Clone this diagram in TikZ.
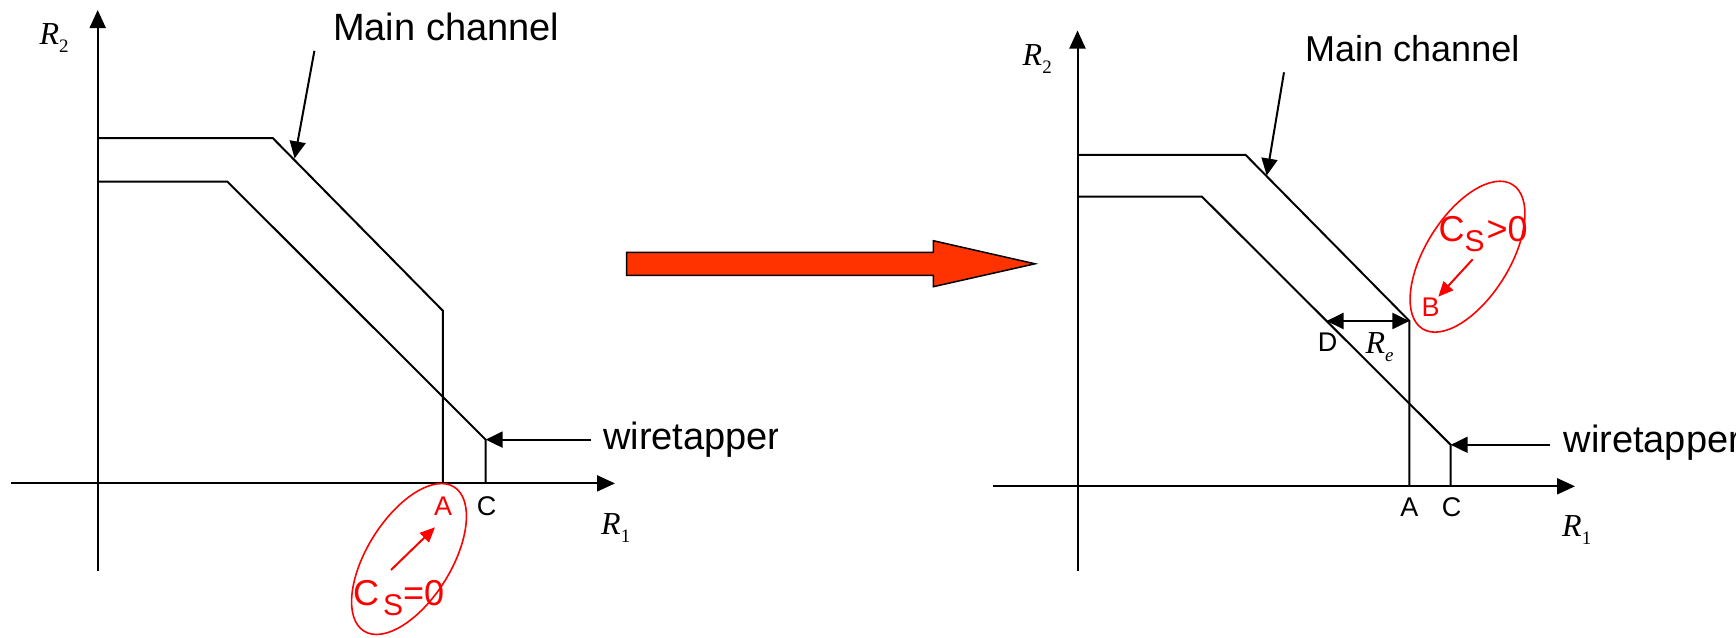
\documentclass[tikz,border=0pt]{standalone}
\usepackage{fontspec}
\setmainfont{Liberation Sans}
\newfontfamily\tms{Liberation Serif}
\usetikzlibrary{arrows.meta}
\definecolor{bigred}{HTML}{FF3300}
\definecolor{ringred}{HTML}{FF0000}
\tikzset{
  ln/.style={line width=2pt, line join=miter},
  axisline/.style={line width=2pt, -{Triangle[length=18pt,width=16pt]}},
  ptr/.style={line width=2pt, -{Triangle[length=17pt,width=16pt]}},
  dbl/.style={line width=2pt, {Triangle[length=17pt,width=16pt]}-{Triangle[length=17pt,width=16pt]}},
  redptr/.style={ringred, line width=2pt, -{Triangle[length=15pt,width=13pt]}},
  ring/.style={ringred, line width=1.6pt},
  lbl/.style={inner sep=0pt, anchor=base west, font=\fontsize{36}{40}\selectfont},
  biglbl/.style={inner sep=0pt, anchor=base west, font=\fontsize{38}{42}\selectfont},
  ptlbl/.style={inner sep=0pt, anchor=base, font=\fontsize{27}{30}\selectfont},
  axlbl/.style={inner sep=0pt, anchor=base west, font=\tms\fontsize{32}{34}\selectfont},
  cslbl/.style={inner sep=0pt, anchor=base west, text=ringred, font=\fontsize{36}{40}\selectfont},
}
\newcommand{\subS}{\raisebox{-10pt}{\fontsize{30}{32}\selectfont S}}
\begin{document}
\begin{tikzpicture}[x=1pt,y=-1pt]
\useasboundingbox (0,0) rectangle (1736,637);

% ===== Left diagram =====
\coordinate (LyB) at (97.7,570.8);
\coordinate (LyT) at (97.7,10);
\coordinate (LxL) at (11,483.4);
\coordinate (LxR) at (615,483.4);
\draw[axisline] (LyB) -- (LyT);
\draw[axisline] (LxL) -- (LxR);

\coordinate (Lo1) at (97.7,138.1);
\coordinate (Lo2) at (272.8,138.1);
\coordinate (Lo3) at (442.9,310.8);
\coordinate (LA)  at (442.9,483.4);
\draw[ln] (Lo1) -- (Lo2) -- (Lo3) -- (LA);

\coordinate (Li1) at (97.7,181.6);
\coordinate (Li2) at (227.4,181.6);
\coordinate (Li3) at (485.6,439.6);
\coordinate (LC)  at (485.6,483.4);
\draw[ln] (Li1) -- (Li2) -- (Li3) -- (LC);

\node[biglbl] (Lmain) at (333,40.6) {Main channel};
\coordinate (Lmfrom) at (314.4,50.8);
\coordinate (Lmto) at (294.6,158.4);
\draw[ptr] (Lmfrom) -- (Lmto);

\coordinate (Lwfrom) at (591,439.6);
\draw[ptr] (Lwfrom) -- (Li3);
\begin{scope}
\clip (600,400) rectangle (777,480);
\node[biglbl] (Lwire) at (603,449) {wiretapper};
\end{scope}

\node[axlbl] (LR2) at (39.5,44.7) {\textit{R}\raisebox{-8pt}{\fontsize{19}{20}\selectfont 2}};
\node[axlbl] (LR1) at (601,534) {\textit{R}\raisebox{-8pt}{\fontsize{19}{20}\selectfont 1}};

\node[ptlbl, text=ringred] (LAlbl) at (443,515) {A};
\node[ptlbl] (LClbl) at (486.7,515) {C};

\coordinate (Lring) at (409,559);
\draw[ring, rotate around={58:(Lring)}] (Lring) ellipse [x radius=85, y radius=42];
\node[cslbl] (Lcs) at (353,605) {C\kern4pt\subS=0};
\coordinate (Lrfrom) at (391,570);
\coordinate (Lrto) at (435,527.3);
\draw[redptr] (Lrfrom) -- (Lrto);

% ===== Big arrow =====
\coordinate (b1) at (626.7,252.3);
\coordinate (b2) at (933.3,252.3);
\coordinate (b3) at (933.3,240.7);
\coordinate (b4) at (1035,263.8);
\coordinate (b5) at (933.3,286.7);
\coordinate (b6) at (933.3,275.3);
\coordinate (b7) at (626.7,275.3);
\draw[fill=bigred, line width=1.5pt, line join=miter] (b1) -- (b2) -- (b3) -- (b4) -- (b5) -- (b6) -- (b7) -- cycle;

% ===== Right diagram =====
\coordinate (RyB) at (1077.5,570.8);
\coordinate (RyT) at (1077.5,30.5);
\coordinate (RxL) at (993,486.3);
\coordinate (RxR) at (1575,486.3);
\draw[axisline] (RyB) -- (RyT);
\draw[axisline] (RxL) -- (RxR);

\coordinate (Ro1) at (1077.5,154.8);
\coordinate (Ro2) at (1245.5,154.8);
\coordinate (Ro3) at (1409.4,321);
\coordinate (RA)  at (1409.4,486.3);
\draw[ln] (Ro1) -- (Ro2) -- (Ro3) -- (RA);

\coordinate (Ri1) at (1077.5,196.6);
\coordinate (Ri2) at (1201.9,196.6);
\coordinate (Ri3) at (1450.7,444.8);
\coordinate (RC)  at (1450.7,486.3);
\draw[ln] (Ri1) -- (Ri2) -- (Ri3) -- (RC);

\node[lbl] (Rmain) at (1305,61) {Main channel};
\coordinate (Rmfrom) at (1284,72.3);
\coordinate (Rmto) at (1266.7,175.5);
\draw[ptr] (Rmfrom) -- (Rmto);

\coordinate (Rwfrom) at (1550.2,444.8);
\draw[ptr] (Rwfrom) -- (Ri3);
\begin{scope}
\clip (1560,400) rectangle (1736,480);
\node[biglbl] (Rwire) at (1563.4,452) {wiretapper};
\end{scope}

\coordinate (RD) at (1326.5,321);
\draw[dbl] (RD) -- (Ro3);
\node[ptlbl] (RDlbl) at (1327.5,351.4) {D};
\node[axlbl] (RRe) at (1365.3,353.4) {\textit{R}\raisebox{-8pt}{\fontsize{19}{20}\selectfont\itshape e}};

\node[axlbl] (RR2) at (1022.5,65) {\textit{R}\raisebox{-8pt}{\fontsize{19}{20}\selectfont 2}};
\node[axlbl] (RR1) at (1562,536) {\textit{R}\raisebox{-8pt}{\fontsize{19}{20}\selectfont 1}};

\node[ptlbl] (RAlbl) at (1409.4,516.8) {A};
\node[ptlbl] (RClbl) at (1451.6,516.8) {C};

\coordinate (Rring) at (1467.5,256.7);
\draw[ring, rotate around={58:(Rring)}] (Rring) ellipse [x radius=85, y radius=42];
\node[cslbl] (Rcs) at (1438.3,241.7) {C\subS\kern2pt>0};
\node[ptlbl, text=ringred] (RBlbl) at (1430.5,316.7) {B};
\coordinate (Rrfrom) at (1472.7,259.3);
\coordinate (Rrto) at (1438.3,296.7);
\draw[redptr] (Rrfrom) -- (Rrto);
\end{tikzpicture}
\end{document}
